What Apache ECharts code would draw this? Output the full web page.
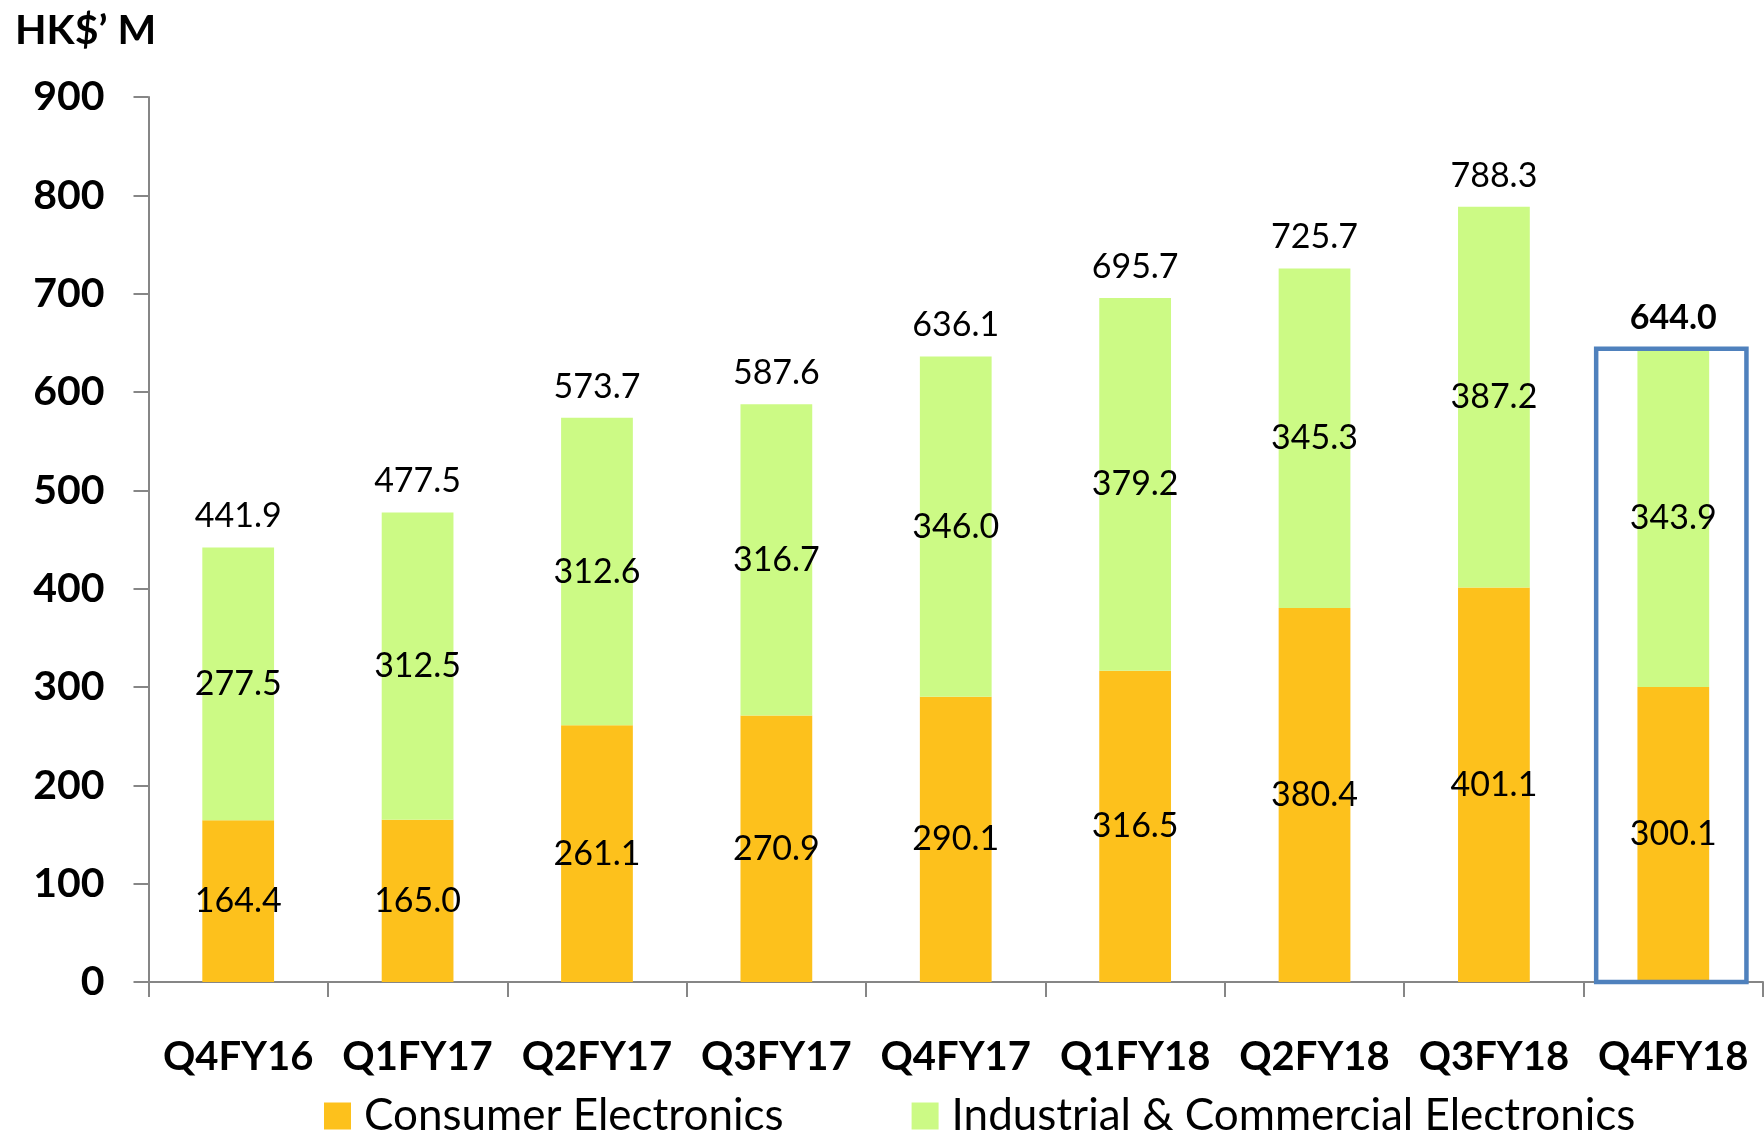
<!DOCTYPE html>
<html>
<head>
<meta charset="utf-8">
<script src="https://cdn.jsdelivr.net/npm/echarts@6/dist/echarts.min.js"></script>
<style>
html,body{margin:0;padding:0;background:#fff;}
#chart{width:1764px;height:1136px;}
</style>
</head>
<body>
<div id="chart"></div>
<script>
const categories = ['Q4FY16','Q1FY17','Q2FY17','Q3FY17','Q4FY17','Q1FY18','Q2FY18','Q3FY18','Q4FY18'];
const consumer = [164.4,165.0,261.1,270.9,290.1,316.5,380.4,401.1,300.1];
const industrial = [277.5,312.5,312.6,316.7,346.0,379.2,345.3,387.2,343.9];
const totals = [441.9,477.5,573.7,587.6,636.1,695.7,725.7,788.3,644.0];
const yTicks = [0,100,200,300,400,500,600,700,800,900];
const highlightCategory = 'Q4FY18';

(function(){
const FONT = 'Lato';
const chart = echarts.init(document.getElementById('chart'), null, {renderer:'canvas'});
const lastIdx = categories.indexOf(highlightCategory);

const option = {
  backgroundColor:'#fff',
  animation:false,
  title:{text:"HK$\u2019 M", left:10, top:5,
    textStyle:{fontFamily:FONT, fontWeight:'bold', fontSize:41, color:'#000'}},
  legend:{
    left:319, top:1089, itemWidth:27, itemHeight:27, itemGap:128,
    icon:'rect',
    data:['Consumer Electronics','Industrial & Commercial Electronics'],
    textStyle:{fontFamily:FONT, fontSize:44, color:'#000', padding:[0,0,0,8]}
  },
  grid:{left:148.5, right:1, top:97, bottom:154, containLabel:false},
  xAxis:{
    type:'category', data:categories,
    axisLine:{lineStyle:{color:'#868686', width:2}},
    axisTick:{show:true, length:15, alignWithLabel:false, lineStyle:{color:'#868686', width:2}},
    axisLabel:{fontFamily:FONT, fontWeight:'bold', fontSize:40, color:'#000', margin:55, interval:0}
  },
  yAxis:{
    type:'value', min:yTicks[0], max:yTicks[yTicks.length-1], interval:100,
    splitLine:{show:false},
    axisLine:{show:true, lineStyle:{color:'#868686', width:2}},
    axisTick:{show:true, length:15, lineStyle:{color:'#868686', width:2}},
    axisLabel:{fontFamily:FONT, fontWeight:'bold', fontSize:41, color:'#000', margin:44}
  },
  series:[
    {
      name:'Consumer Electronics', type:'bar', stack:'total', barWidth:'40%',
      data:consumer,
      itemStyle:{color:'#FDC11C'},
      label:{show:true, position:'inside', fontFamily:FONT, fontSize:34, color:'#000',
        formatter:p=>p.value.toFixed(1)}
    },
    {
      name:'Industrial & Commercial Electronics', type:'bar', stack:'total', barWidth:'40%',
      data:industrial,
      itemStyle:{color:'#CCFA85'},
      label:{show:true, position:'inside', fontFamily:FONT, fontSize:34, color:'#000',
        formatter:p=>p.value.toFixed(1)}
    },
    {
      name:'Total', type:'bar', stack:'total', barWidth:'40%',
      data:totals.map((v,i)=>({value:0, label:{fontWeight: i===lastIdx ? 'bold' : 'normal'}})),
      itemStyle:{color:'rgba(0,0,0,0)'},
      label:{show:true, position:'top', distance:14, fontFamily:FONT, fontSize:34, color:'#000', opacity:1,
        formatter:p=>totals[p.dataIndex].toFixed(1)},
      silent:true
    }
  ]
};
chart.setOption(option);

const basePt = chart.convertToPixel({gridIndex:0}, [highlightCategory, 0]);
const topPt = chart.convertToPixel({gridIndex:0}, [highlightCategory, totals[lastIdx]]);
const gridRect = chart.getModel().getComponent('grid',0).coordinateSystem.getRect();
const bw = gridRect.width / categories.length;
const halfW = bw*0.43;
chart.setOption({
  graphic:[{
    type:'rect', z:10,
    shape:{x:basePt[0]-halfW, y:topPt[1], width:halfW*2 - 4, height:basePt[1]-topPt[1]},
    style:{fill:'none', stroke:'#4F81BD', lineWidth:4.5}
  }]
});
})();
</script>
</body>
</html>
